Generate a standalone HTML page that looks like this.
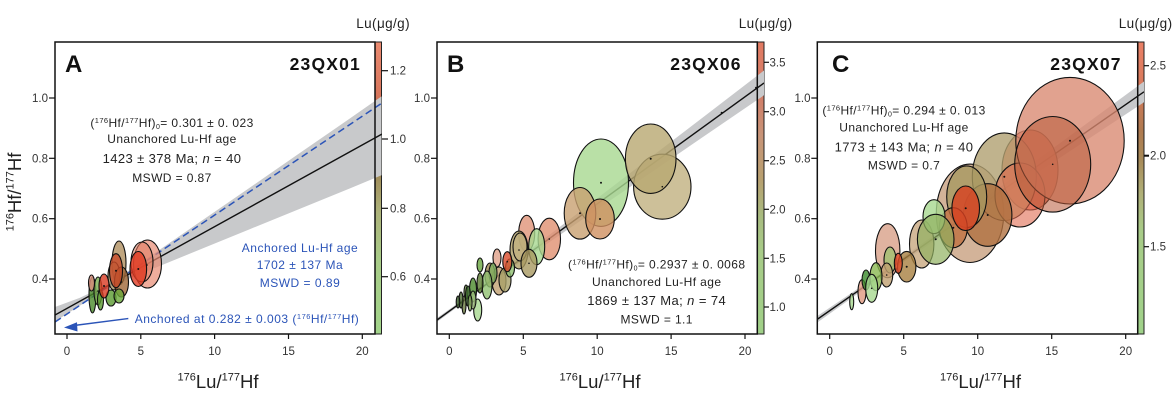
<!DOCTYPE html>
<html><head><meta charset="utf-8"><style>
html,body{margin:0;padding:0;background:#fff;}
svg{display:block;font-family:"Liberation Sans",Arial,sans-serif;}
</style></head><body>
<svg width="1176" height="408" viewBox="0 0 1176 408" xmlns="http://www.w3.org/2000/svg">
<defs>
<linearGradient id="gA" x1="0" y1="0" x2="0" y2="1">
<stop offset="0" stop-color="#ea8a70"/>
<stop offset="0.18" stop-color="#d8765c"/>
<stop offset="0.32" stop-color="#9a6a48"/>
<stop offset="0.45" stop-color="#a08a58"/>
<stop offset="0.58" stop-color="#adb27a"/>
<stop offset="0.75" stop-color="#a8cc88"/>
<stop offset="1" stop-color="#a2d48a"/>
</linearGradient>
<linearGradient id="gB" x1="0" y1="0" x2="0" y2="1">
<stop offset="0" stop-color="#e27a62"/>
<stop offset="0.2" stop-color="#d0806a"/>
<stop offset="0.32" stop-color="#c89478"/>
<stop offset="0.47" stop-color="#b8a070"/>
<stop offset="0.6" stop-color="#a8bc80"/>
<stop offset="0.72" stop-color="#a8cc88"/>
<stop offset="1" stop-color="#a0d088"/>
</linearGradient>
<linearGradient id="gC" x1="0" y1="0" x2="0" y2="1">
<stop offset="0" stop-color="#ea8066"/>
<stop offset="0.15" stop-color="#d87a5c"/>
<stop offset="0.3" stop-color="#b07a50"/>
<stop offset="0.4" stop-color="#a88a58"/>
<stop offset="0.52" stop-color="#b0b078"/>
<stop offset="0.65" stop-color="#a8cc88"/>
<stop offset="1" stop-color="#a0d28a"/>
</linearGradient>
<clipPath id="cA"><rect x="55" y="42" width="326.5" height="292"/></clipPath>
<clipPath id="cB"><rect x="437" y="42" width="327" height="292"/></clipPath>
<clipPath id="cC"><rect x="817.3" y="42" width="326.7" height="292"/></clipPath>
</defs>

<!-- ================= PANEL A ================= -->
<rect x="375" y="42" width="6.5" height="292" fill="url(#gA)" stroke="#222" stroke-width="1"/>
<g clip-path="url(#cA)">
<polygon fill="#c8c9cb" points="55,307 80,297.7 104,286.4 130,269.9 160,249.5 200,221.9 250,187.5 300,152.9 350,118.4 382,96 382,175 350,188.4 300,208.7 250,229.1 200,249.5 160,265.9 130,278.3 104,290.4 80,305.6 55,321.5"/>
<line x1="55" y1="315" x2="382" y2="134" stroke="#111" stroke-width="1.4"/>
<line x1="55" y1="322" x2="382" y2="103" stroke="#2b54b8" stroke-width="1.5" stroke-dasharray="7,4"/>
<g stroke="#111" stroke-width="1.1" fill-opacity="0.8">
<ellipse cx="147.5" cy="264" rx="14" ry="24" fill="#e88a72" fill-opacity="0.7"/>
<ellipse cx="142" cy="262" rx="11" ry="20" fill="#e07a60" fill-opacity="0.55"/>
<ellipse cx="119" cy="263" rx="7" ry="22" fill="#b09060"/>
<ellipse cx="114" cy="276" rx="6" ry="14" fill="#a89868"/>
<ellipse cx="121.5" cy="282" rx="7" ry="15" fill="#a06838"/>
<ellipse cx="111" cy="298" rx="5" ry="8" fill="#5a9a30"/>
<ellipse cx="119" cy="296" rx="5" ry="7" fill="#6aa838"/>
<ellipse cx="92.5" cy="295" rx="3.5" ry="18" fill="#4a8a2a"/>
<ellipse cx="98" cy="291" rx="4" ry="14" fill="#7ab050"/>
<ellipse cx="100.5" cy="300" rx="3" ry="10" fill="#5a9a30"/>
<ellipse cx="91.5" cy="283" rx="3" ry="8" fill="#e09080"/>
<ellipse cx="104" cy="286" rx="5" ry="12" fill="#d83a22"/>
<ellipse cx="116" cy="270.7" rx="6.5" ry="17" fill="#c84a28"/>
<ellipse cx="138.3" cy="269" rx="8.3" ry="17.5" fill="#e03a22"/>
</g>
<g fill="#111">
<circle cx="138.3" cy="269" r="1"/><circle cx="116" cy="270.7" r="1"/><circle cx="104" cy="286" r="1"/>
<circle cx="121.5" cy="282" r="0.8"/><circle cx="147" cy="265" r="0.8"/><circle cx="98" cy="291" r="0.8"/>
</g>
</g>
<rect x="55" y="42" width="320" height="292" fill="none" stroke="#111" stroke-width="1.5"/>
<!-- arrow -->
<line x1="128.3" y1="318.5" x2="74" y2="325.5" stroke="#2b54b8" stroke-width="1.4"/>
<polygon points="64,327.5 77,322.2 77.5,331.5" fill="#2b54b8"/>
<!-- ticks A -->
<g stroke="#111" stroke-width="1.2">
<line x1="67" y1="334" x2="67" y2="339"/><line x1="140.8" y1="334" x2="140.8" y2="339"/><line x1="214.6" y1="334" x2="214.6" y2="339"/><line x1="288.5" y1="334" x2="288.5" y2="339"/><line x1="362.3" y1="334" x2="362.3" y2="339"/>
<line x1="49" y1="98" x2="55" y2="98"/><line x1="49" y1="158.3" x2="55" y2="158.3"/><line x1="49" y1="218.7" x2="55" y2="218.7"/><line x1="49" y1="279" x2="55" y2="279"/>
<line x1="381.5" y1="70.7" x2="388" y2="70.7"/><line x1="381.5" y1="139" x2="388" y2="139"/><line x1="381.5" y1="208.3" x2="388" y2="208.3"/><line x1="381.5" y1="276.7" x2="388" y2="276.7"/>
</g>
<g font-size="11.5" fill="#333">
<g text-anchor="middle">
<text x="67" y="355">0</text><text x="140.8" y="355">5</text><text x="214.6" y="355">10</text><text x="288.5" y="355">15</text><text x="362.3" y="355">20</text>
</g>
<g text-anchor="end">
<text x="48" y="102">1.0</text><text x="48" y="162.3">0.8</text><text x="48" y="222.7">0.6</text><text x="48" y="283">0.4</text>
</g>
<text x="390" y="74.7">1.2</text><text x="390" y="143">1.0</text><text x="390" y="212.3">0.8</text><text x="390" y="280.7">0.6</text>
</g>
<text x="410" y="28" text-anchor="end" font-size="13.5" fill="#222" letter-spacing="0.4">Lu(μg/g)</text>
<text x="65" y="72" font-size="24" font-weight="bold" fill="#111">A</text>
<text x="361" y="70" text-anchor="end" font-size="17.5" font-weight="bold" fill="#111" letter-spacing="1.2">23QX01</text>
<g fill="#222" text-anchor="middle" letter-spacing="0.4">
<text x="172" y="127" font-size="12">(<tspan font-size="7.5" dy="-4">176</tspan><tspan dy="4">Hf/</tspan><tspan font-size="7.5" dy="-4">177</tspan><tspan dy="4">Hf)</tspan><tspan font-size="7" dy="2">0</tspan><tspan dy="-2">= 0.301 ± 0. 023</tspan></text>
<text x="172" y="143" font-size="12">Unanchored Lu-Hf age</text>
<text x="172" y="163" font-size="13">1423 ± 378 Ma; <tspan font-style="italic">n</tspan> = 40</text>
<text x="172" y="182" font-size="12">MSWD = 0.87</text>
</g>
<g fill="#2b54b8" text-anchor="middle" letter-spacing="0.5" font-size="12">
<text x="300" y="252">Anchored Lu-Hf age</text>
<text x="300" y="269">1702 ± 137 Ma</text>
<text x="300" y="287">MSWD = 0.89</text>
<text x="247" y="323">Anchored at 0.282 ± 0.003 (<tspan font-size="7.5" dy="-4">176</tspan><tspan dy="4">Hf/</tspan><tspan font-size="7.5" dy="-4">177</tspan><tspan dy="4">Hf)</tspan></text>
</g>
<text x="218" y="388" text-anchor="middle" font-size="18.5" fill="#222"><tspan font-size="11" dy="-7.5">176</tspan><tspan dy="7.5">Lu/</tspan><tspan font-size="11" dy="-7.5">177</tspan><tspan dy="7.5">Hf</tspan></text>
<text transform="translate(21,192) rotate(-90)" text-anchor="middle" font-size="18.5" fill="#222"><tspan font-size="11" dy="-7.5">176</tspan><tspan dy="7.5">Hf/</tspan><tspan font-size="11" dy="-7.5">177</tspan><tspan dy="7.5">Hf</tspan></text>

<!-- ================= PANEL B ================= -->
<rect x="757.3" y="42" width="6.7" height="292" fill="url(#gB)" stroke="#222" stroke-width="1"/>
<g clip-path="url(#cB)">
<polygon fill="#c8c9cb" points="437,318 470,294.6 520,257.2 580,211.5 640,165.5 700,119.6 764,70.5 764,95.3 700,139 640,180.1 580,221.1 520,262.4 470,297.6 437,322"/>
<line x1="437" y1="320" x2="764" y2="83" stroke="#111" stroke-width="1.4"/>
<g stroke="#111" stroke-width="1.1" fill-opacity="0.8">
<ellipse cx="662.3" cy="186.7" rx="28.7" ry="32.5" fill="#c0b080"/>
<ellipse cx="601" cy="182.7" rx="27.5" ry="43.7" fill="#a8d890"/>
<ellipse cx="650.7" cy="158.7" rx="25.3" ry="34.7" fill="#b8a870"/>
<ellipse cx="580" cy="213.3" rx="15.8" ry="25.8" fill="#c8a070"/>
<ellipse cx="600" cy="219" rx="14.3" ry="20" fill="#d09060"/>
<ellipse cx="549.3" cy="239" rx="11.2" ry="20.8" fill="#e09070"/>
<ellipse cx="526.7" cy="233.3" rx="8" ry="18" fill="#e09478"/>
<ellipse cx="536.7" cy="246.7" rx="8" ry="18" fill="#a8d890"/>
<ellipse cx="519" cy="250" rx="9" ry="19" fill="#b0a068"/>
<ellipse cx="520" cy="247" rx="7" ry="14" fill="#c0b080"/>
<ellipse cx="529" cy="263.3" rx="8" ry="14" fill="#a89860"/>
<ellipse cx="497" cy="258" rx="4" ry="9" fill="#e0a088"/>
<ellipse cx="499" cy="281" rx="7" ry="14" fill="#c0a070"/>
<ellipse cx="490" cy="275" rx="5" ry="12" fill="#a08850"/>
<ellipse cx="505" cy="280" rx="6" ry="12" fill="#a8a068"/>
<ellipse cx="510" cy="268" rx="4.5" ry="9" fill="#90c070"/>
<ellipse cx="507.3" cy="261.7" rx="4.5" ry="10" fill="#d84a2a"/>
<ellipse cx="493" cy="273" rx="4" ry="10" fill="#80b060"/>
<ellipse cx="487" cy="285" rx="5" ry="14" fill="#90c070"/>
<ellipse cx="480" cy="265" rx="3" ry="7" fill="#6aa840"/>
<ellipse cx="480" cy="283" rx="3" ry="10" fill="#5a7a30"/>
<ellipse cx="477.7" cy="310" rx="4" ry="11" fill="#a8d890"/>
<ellipse cx="473" cy="290" rx="3.5" ry="12" fill="#4a8a2a"/>
<ellipse cx="473" cy="300" rx="3" ry="9" fill="#a0c080"/>
<ellipse cx="466" cy="292" rx="2" ry="7" fill="#6a8a40"/>
<ellipse cx="468" cy="296" rx="2.5" ry="10" fill="#3a6a2a"/>
<ellipse cx="470" cy="303" rx="2" ry="8" fill="#8ab060"/>
<ellipse cx="464" cy="305" rx="2" ry="9" fill="#6a7a40"/>
<ellipse cx="461" cy="300" rx="2" ry="8" fill="#4a6a30"/>
<ellipse cx="458" cy="302" rx="1.8" ry="6" fill="#3a5a2a"/>
</g>
<g fill="#111">
<circle cx="601" cy="182.7" r="1"/><circle cx="650.7" cy="158.7" r="1"/><circle cx="662.3" cy="186.7" r="0.8"/>
<circle cx="580" cy="213.3" r="1"/><circle cx="600" cy="219" r="1"/><circle cx="549.3" cy="239" r="0.8"/>
<circle cx="529" cy="263.3" r="0.8"/><circle cx="519" cy="250" r="0.8"/><circle cx="507.3" cy="261.7" r="0.8"/>
<circle cx="721.7" cy="112.7" r="1"/><circle cx="756" cy="87.7" r="1"/>
</g>
</g>
<rect x="437" y="42" width="320.3" height="292" fill="none" stroke="#111" stroke-width="1.5"/>
<g stroke="#111" stroke-width="1.2">
<line x1="449.3" y1="334" x2="449.3" y2="339"/><line x1="523.3" y1="334" x2="523.3" y2="339"/><line x1="597.2" y1="334" x2="597.2" y2="339"/><line x1="671.1" y1="334" x2="671.1" y2="339"/><line x1="745" y1="334" x2="745" y2="339"/>
<line x1="431" y1="98" x2="437" y2="98"/><line x1="431" y1="158.3" x2="437" y2="158.3"/><line x1="431" y1="218.7" x2="437" y2="218.7"/><line x1="431" y1="279" x2="437" y2="279"/>
<line x1="764" y1="62.3" x2="769" y2="62.3"/><line x1="764" y1="111.7" x2="769" y2="111.7"/><line x1="764" y1="160.7" x2="769" y2="160.7"/><line x1="764" y1="209.3" x2="769" y2="209.3"/><line x1="764" y1="258.3" x2="769" y2="258.3"/><line x1="764" y1="307" x2="769" y2="307"/>
</g>
<g font-size="11.5" fill="#333">
<g text-anchor="middle">
<text x="449.3" y="355">0</text><text x="523.3" y="355">5</text><text x="597.2" y="355">10</text><text x="671.1" y="355">15</text><text x="745" y="355">20</text>
</g>
<g text-anchor="end">
<text x="430" y="102">1.0</text><text x="430" y="162.3">0.8</text><text x="430" y="222.7">0.6</text><text x="430" y="283">0.4</text>
</g>
<text x="769.5" y="66.3">3.5</text><text x="769.5" y="115.7">3.0</text><text x="769.5" y="164.7">2.5</text><text x="769.5" y="213.3">2.0</text><text x="769.5" y="262.3">1.5</text><text x="769.5" y="311">1.0</text>
</g>
<text x="792.5" y="28" text-anchor="end" font-size="13.5" fill="#222" letter-spacing="0.4">Lu(μg/g)</text>
<text x="447" y="72" font-size="24" font-weight="bold" fill="#111">B</text>
<text x="741.7" y="70" text-anchor="end" font-size="17.5" font-weight="bold" fill="#111" letter-spacing="1.2">23QX06</text>
<g fill="#222" text-anchor="middle" letter-spacing="0.4">
<text x="656.7" y="268.3" font-size="12">(<tspan font-size="7.5" dy="-4">176</tspan><tspan dy="4">Hf/</tspan><tspan font-size="7.5" dy="-4">177</tspan><tspan dy="4">Hf)</tspan><tspan font-size="7" dy="2">0</tspan><tspan dy="-2">= 0.2937 ± 0. 0068</tspan></text>
<text x="656.7" y="286" font-size="12">Unanchored Lu-Hf age</text>
<text x="656.7" y="305" font-size="13">1869 ± 137 Ma; <tspan font-style="italic">n</tspan> = 74</text>
<text x="656.7" y="323.3" font-size="12">MSWD = 1.1</text>
</g>
<text x="600" y="388" text-anchor="middle" font-size="18.5" fill="#222"><tspan font-size="11" dy="-7.5">176</tspan><tspan dy="7.5">Lu/</tspan><tspan font-size="11" dy="-7.5">177</tspan><tspan dy="7.5">Hf</tspan></text>

<!-- ================= PANEL C ================= -->
<rect x="1137.7" y="42" width="6.3" height="292" fill="url(#gC)" stroke="#222" stroke-width="1"/>
<g clip-path="url(#cC)">
<polygon fill="#c8c9cb" points="817,316.3 880,273.7 940,230.8 1000,187 1060,143.1 1144,81.5 1144,102.3 1060,157.7 1000,197.2 940,237 880,277.7 817,322.7"/>
<line x1="817" y1="319.5" x2="1144" y2="91.8" stroke="#111" stroke-width="1.4"/>
<g stroke="#111" stroke-width="1.1" fill-opacity="0.8">
<ellipse cx="970" cy="213.3" rx="33.7" ry="49.2" fill="#c8a080"/>
<ellipse cx="1030" cy="170" rx="28" ry="40" fill="#e86a50"/>
<ellipse cx="1004.3" cy="176.7" rx="32" ry="43.8" fill="#b0a070"/>
<ellipse cx="1020" cy="195" rx="25" ry="32" fill="#e06a50" fill-opacity="0.6"/>
<ellipse cx="987.7" cy="215" rx="24.2" ry="31.3" fill="#b07040"/>
<ellipse cx="966.7" cy="196.7" rx="20" ry="30.8" fill="#a89860"/>
<ellipse cx="953.3" cy="227.7" rx="14" ry="20" fill="#c07040"/>
<ellipse cx="965.7" cy="208.3" rx="13.8" ry="22.3" fill="#d84020"/>
<ellipse cx="1070" cy="140.7" rx="54.2" ry="63.3" fill="#d88870" fill-opacity="0.78"/>
<ellipse cx="1052.7" cy="164.3" rx="38" ry="47.8" fill="#b85a38" fill-opacity="0.55"/>
<ellipse cx="921.7" cy="244" rx="12.2" ry="24" fill="#c8a880"/>
<ellipse cx="934" cy="216.7" rx="11" ry="17" fill="#a8d890"/>
<ellipse cx="935.7" cy="239.3" rx="18.3" ry="25" fill="#90b060" fill-opacity="0.7"/>
<ellipse cx="887.7" cy="250.7" rx="12.2" ry="27" fill="#d8a088"/>
<ellipse cx="906.7" cy="266.7" rx="9.2" ry="15.3" fill="#a88040"/>
<ellipse cx="890" cy="260" rx="6" ry="13" fill="#a0c070"/>
<ellipse cx="898.3" cy="263.3" rx="4" ry="10" fill="#e04a28"/>
<ellipse cx="886.7" cy="275" rx="6" ry="12" fill="#c0a070"/>
<ellipse cx="876" cy="276.7" rx="6" ry="14" fill="#8ab850"/>
<ellipse cx="862" cy="291.7" rx="4" ry="12" fill="#e09880"/>
<ellipse cx="866" cy="280" rx="4" ry="10" fill="#3a8a2a"/>
<ellipse cx="871.7" cy="288.3" rx="6" ry="14" fill="#a8d890"/>
<ellipse cx="851.7" cy="301.7" rx="2" ry="8" fill="#a8d890"/>
</g>
<g fill="#111">
<circle cx="1070" cy="140.7" r="1"/><circle cx="1052.7" cy="164.3" r="0.8"/><circle cx="1004.3" cy="176.7" r="1"/>
<circle cx="965.7" cy="208.3" r="1"/><circle cx="987.7" cy="215" r="1"/><circle cx="953.3" cy="227.7" r="1"/>
<circle cx="935.7" cy="239.3" r="1"/><circle cx="906.7" cy="266.7" r="1"/><circle cx="886.7" cy="275" r="0.8"/>
<circle cx="871.7" cy="288.3" r="0.8"/>
</g>
</g>
<rect x="817.3" y="42" width="320.4" height="292" fill="none" stroke="#111" stroke-width="1.5"/>
<g stroke="#111" stroke-width="1.2">
<line x1="829.7" y1="334" x2="829.7" y2="339"/><line x1="903.7" y1="334" x2="903.7" y2="339"/><line x1="977.7" y1="334" x2="977.7" y2="339"/><line x1="1051.7" y1="334" x2="1051.7" y2="339"/><line x1="1125.7" y1="334" x2="1125.7" y2="339"/>
<line x1="811.3" y1="98" x2="817.3" y2="98"/><line x1="811.3" y1="158.3" x2="817.3" y2="158.3"/><line x1="811.3" y1="218.7" x2="817.3" y2="218.7"/><line x1="811.3" y1="279" x2="817.3" y2="279"/>
<line x1="1144" y1="65.7" x2="1149" y2="65.7"/><line x1="1144" y1="155.7" x2="1149" y2="155.7" stroke-width="2"/><line x1="1144" y1="246.7" x2="1149" y2="246.7"/>
</g>
<g font-size="11.5" fill="#333">
<g text-anchor="middle">
<text x="829.7" y="355">0</text><text x="903.7" y="355">5</text><text x="977.7" y="355">10</text><text x="1051.7" y="355">15</text><text x="1125.7" y="355">20</text>
</g>
<g text-anchor="end">
<text x="810.5" y="102">1.0</text><text x="810.5" y="162.3">0.8</text><text x="810.5" y="222.7">0.6</text><text x="810.5" y="283">0.4</text>
</g>
<text x="1150" y="69.7">2.5</text><text x="1150" y="159.7">2.0</text><text x="1150" y="250.7">1.5</text>
</g>
<text x="1172.5" y="28" text-anchor="end" font-size="13.5" fill="#222" letter-spacing="0.4">Lu(μg/g)</text>
<text x="832" y="72" font-size="24" font-weight="bold" fill="#111">C</text>
<text x="1121.7" y="70" text-anchor="end" font-size="17.5" font-weight="bold" fill="#111" letter-spacing="1.2">23QX07</text>
<g fill="#222" text-anchor="middle" letter-spacing="0.4">
<text x="904" y="114.5" font-size="12">(<tspan font-size="7.5" dy="-4">176</tspan><tspan dy="4">Hf/</tspan><tspan font-size="7.5" dy="-4">177</tspan><tspan dy="4">Hf)</tspan><tspan font-size="7" dy="2">0</tspan><tspan dy="-2">= 0.294 ± 0. 013</tspan></text>
<text x="904" y="131.7" font-size="12">Unanchored Lu-Hf age</text>
<text x="904" y="151.7" font-size="13">1773 ± 143 Ma; <tspan font-style="italic">n</tspan> = 40</text>
<text x="904" y="169.3" font-size="12">MSWD = 0.7</text>
</g>
<text x="980.5" y="388" text-anchor="middle" font-size="18.5" fill="#222"><tspan font-size="11" dy="-7.5">176</tspan><tspan dy="7.5">Lu/</tspan><tspan font-size="11" dy="-7.5">177</tspan><tspan dy="7.5">Hf</tspan></text>
</svg>
</body></html>
